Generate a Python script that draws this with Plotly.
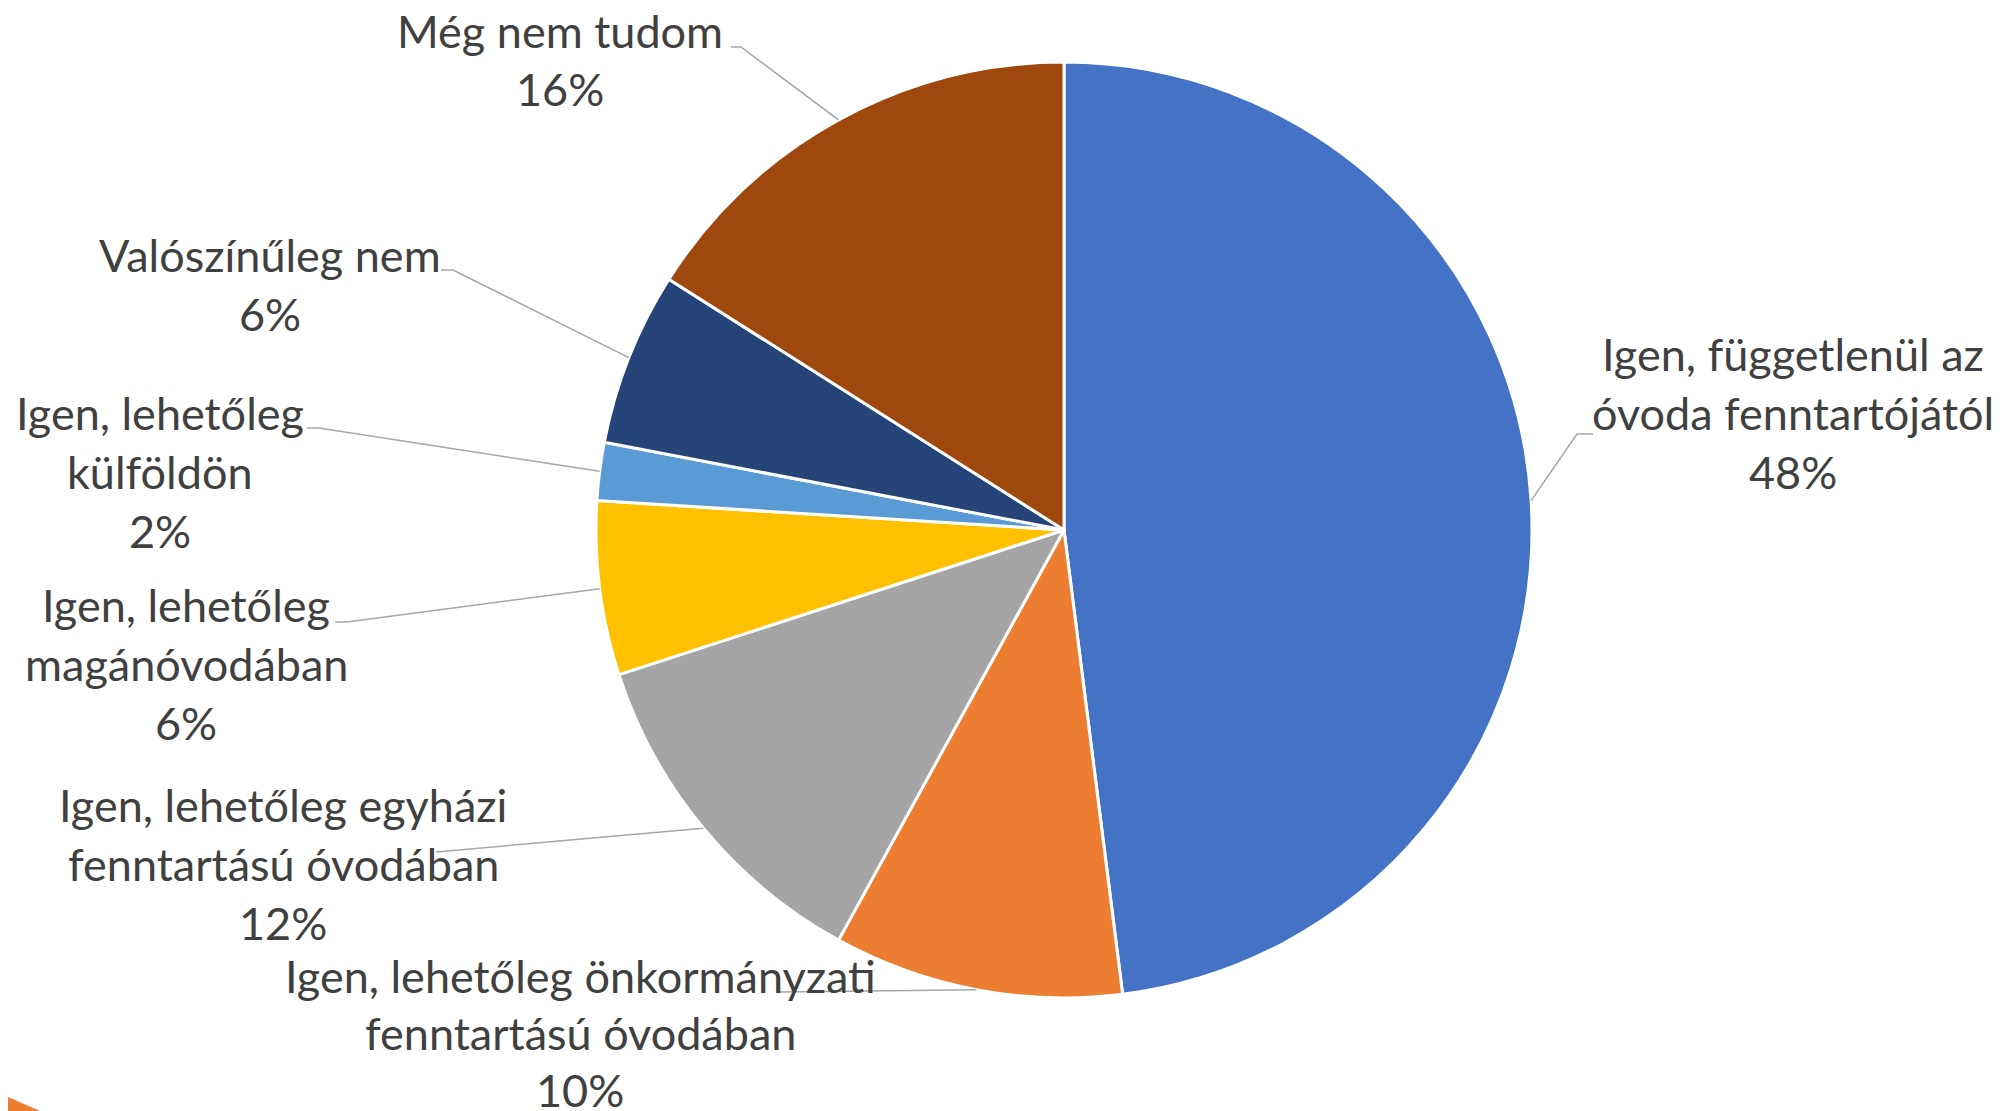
import math
import plotly.graph_objects as go

W, H = 2003, 1111
OFF = 8  # default page body margin
FW, FH = W - OFF, H - OFF

categories = [
    "Igen, függetlenül az óvoda fenntartójától",
    "Igen, lehetőleg önkormányzati fenntartású óvodában",
    "Igen, lehetőleg egyházi fenntartású óvodában",
    "Igen, lehetőleg magánóvodában",
    "Igen, lehetőleg külföldön",
    "Valószínűleg nem",
    "Még nem tudom",
]
values = [48, 10, 12, 6, 2, 6, 16]
label_lines = [
    ["Igen, függetlenül az", "óvoda fenntartójától"],
    ["Igen, lehetőleg önkormányzati", "fenntartású óvodában"],
    ["Igen, lehetőleg egyházi", "fenntartású óvodában"],
    ["Igen, lehetőleg", "magánóvodában"],
    ["Igen, lehetőleg", "külföldön"],
    ["Valószínűleg nem"],
    ["Még nem tudom"],
]
colors = ["#4472C4", "#ED7D31", "#A5A5A5", "#FFC000", "#5B9BD5", "#264478", "#9E480E"]

# layout geometry (page pixels)
CX, CY, R = 1064, 530, 468
label_pos = [(1793, 354), (580, 976), (283, 805), (186, 605), (160, 413), (270, 255), (560, 31)]
line_gaps = [59, 57, 59, 59, 59, 59, 58]
leader_start = [
    [(1593, 434), (1577, 434)],
    [(779, 992)],
    [(436, 852)],
    [(335, 622), (347, 622)],
    [(307, 428), (319, 428)],
    [(441, 270), (453, 270)],
    [(731, 47), (741, 47)],
]

fig = go.Figure()
fig.add_trace(go.Pie(
    labels=categories, values=values, sort=False, direction="clockwise", rotation=0,
    marker=dict(colors=colors, line=dict(color="white", width=3)),
    textinfo="none", hoverinfo="label+percent", showlegend=False,
    domain=dict(x=[(CX - R - OFF) / FW, (CX + R - OFF) / FW],
                y=[1 - (CY + R - OFF) / FH, 1 - (CY - R - OFF) / FH]),
))
fig.add_trace(go.Scatter(x=[OFF, W], y=[OFF, H], mode="markers", marker=dict(opacity=0),
                         showlegend=False, hoverinfo="skip"))

total = sum(values)
cum = 0
shapes = []
annotations = []
font = dict(family="Lato, 'Open Sans', sans-serif", size=45, color="#404040")
for i, v in enumerate(values):
    mid = (cum + v / 2) / total * 2 * math.pi
    cum += v
    ex, ey = CX + R * math.sin(mid), CY - R * math.cos(mid)
    pts = leader_start[i] + [(ex, ey)]
    path = "M " + " L ".join(f"{x:.1f},{y:.1f}" for x, y in pts)
    shapes.append(dict(type="path", path=path, xref="x", yref="y",
                       line=dict(color="#A6A6A6", width=1.5)))
    pct = round(v / total * 100)
    lines = label_lines[i] + [f"{pct}%"]
    lx, ly = label_pos[i]
    for j, t in enumerate(lines):
        annotations.append(dict(text=t, x=lx, y=ly + j * line_gaps[i], xref="x", yref="y",
                                showarrow=False, xanchor="center", yanchor="middle",
                                borderpad=0, font=font))

shapes.append(dict(type="path", path=f"M {OFF},1097 L 40,{H} L {OFF},{H} Z", xref="x", yref="y",
                   fillcolor="#ED7D31", line=dict(width=0)))

fig.update_layout(
    width=FW, height=FH, margin=dict(l=0, r=0, t=0, b=0),
    paper_bgcolor="white", plot_bgcolor="rgba(0,0,0,0)",
    xaxis=dict(range=[OFF, W], visible=False, fixedrange=True),
    yaxis=dict(range=[H, OFF], visible=False, fixedrange=True),
    shapes=shapes, annotations=annotations,
)
fig.write_html("out.html")
